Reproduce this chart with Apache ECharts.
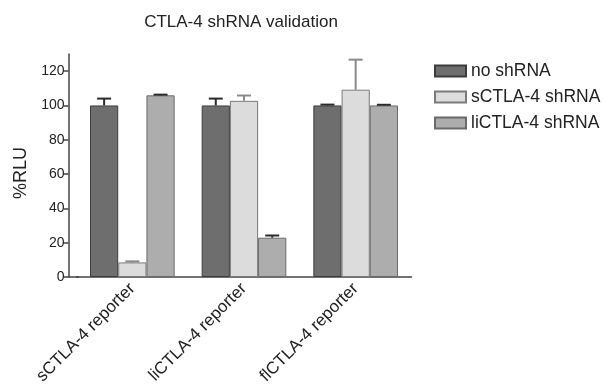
<!DOCTYPE html>
<html>
<head>
<meta charset="utf-8">
<script src="https://cdn.jsdelivr.net/npm/echarts@6/dist/echarts.min.js"></script>
<style>
  html, body { margin: 0; padding: 0; background: #ffffff; }
  #chart { width: 604px; height: 384px; }
</style>
</head>
<body>
<div id="chart"></div>
<script>
// Reporter constructs on the category axis
const categories = ['sCTLA-4 reporter', 'liCTLA-4 reporter', 'flCTLA-4 reporter'];

// Series names (legend order)
const seriesNames = ['no shRNA', 'sCTLA-4 shRNA', 'liCTLA-4 shRNA'];

// Mean %RLU per reporter
const noShRNA = [100, 100, 100];
const sShRNA = [8.5, 102.7, 109.2];
const liShRNA = [105.9, 22.9, 100];

// Upper error (SEM) per reporter
const noShRNAErr = [4, 4, 0.5];
const sShRNAErr = [0.6, 3.1, 17.5];
const liShRNAErr = [0.4, 1.3, 0.4];

// Y-axis ticks and range
const yTicks = [0, 20, 40, 60, 80, 100, 120];
const yMin = 0, yMax = 130;

const fills = ['#6e6e6e', '#dcdcdc', '#adadad'];
const edges = ['#3c3c3c', '#7a7a7a', '#6a6a6a'];
const whiskerColors = ['#2a2a2a', '#8a8a8a', '#2a2a2a'];
const FONT = '"Liberation Sans", Arial, Helvetica, sans-serif';
const CATEGORY_GAP = 0.242;

const means = [noShRNA, sShRNA, liShRNA];
const errs = [noShRNAErr, sShRNAErr, liShRNAErr];

const barSeries = seriesNames.map((name, i) => ({
  name: name,
  type: 'bar',
  xAxisIndex: 0,
  yAxisIndex: 0,
  data: means[i],
  barGap: '0%',
  barCategoryGap: (CATEGORY_GAP * 100) + '%',
  itemStyle: { color: fills[i], borderColor: edges[i], borderWidth: 1 },
  emphasis: { disabled: true },
  z: 2
}));

// Upward whiskers with a cap, positioned over each bar of the group
const errorSeries = seriesNames.map((name, i) => ({
  type: 'custom',
  name: name + ' err',
  xAxisIndex: 0,
  yAxisIndex: 0,
  z: 3,
  silent: true,
  data: categories.map((c, k) => [k, means[i][k], means[i][k] + errs[i][k]]),
  encode: { x: 0, y: [1, 2] },
  renderItem: function (params, api) {
    const k = api.value(0);
    const band = api.size([1, 0])[0];
    const bw = band * (1 - CATEGORY_GAP) / 3;
    const base = api.coord([k, api.value(1)]);
    const top = api.coord([k, api.value(2)]);
    const cx = base[0] + (i - 1) * bw;
    const half = 7;
    const style = { stroke: whiskerColors[i], lineWidth: 2, fill: null };
    return {
      type: 'group',
      children: [
        { type: 'line', shape: { x1: cx, y1: base[1], x2: cx, y2: top[1] }, style: style },
        { type: 'line', shape: { x1: cx - half, y1: top[1], x2: cx + half, y2: top[1] }, style: style }
      ]
    };
  }
}));

const gridTop = 54, gridBottom = 107;

const option = {
  backgroundColor: '#ffffff',
  animation: false,
  title: {
    text: 'CTLA-4 shRNA validation',
    left: 241,
    top: 14,
    padding: 0,
    textAlign: 'center',
    textStyle: { fontFamily: FONT, fontSize: 17, fontWeight: 'normal', color: '#222222' }
  },
  legend: {
    data: seriesNames,
    orient: 'vertical',
    left: 434,
    top: 62,
    padding: 0,
    itemWidth: 31,
    itemHeight: 11,
    itemGap: 8,
    icon: 'rect',
    textStyle: { fontFamily: FONT, fontSize: 17.5, color: '#222222', lineHeight: 18 }
  },
  grid: [
    { left: 76.5, right: 604 - 411.5, top: gridTop, bottom: gridBottom, containLabel: false, outerBoundsMode: 'none' },
    { left: 68.5, width: 10, top: gridTop, bottom: gridBottom, containLabel: false, outerBoundsMode: 'none' }
  ],
  xAxis: [
    {
      type: 'category',
      gridIndex: 0,
      data: categories,
      axisLine: { lineStyle: { color: '#444444', width: 1.5 } },
      axisTick: { alignWithLabel: true, length: 5, lineStyle: { color: '#444444', width: 1.5 } },
      axisLabel: {
        rotate: 45,
        margin: 9,
        interval: 0,
        fontFamily: FONT,
        fontSize: 17,
        color: '#222222'
      },
      splitLine: { show: false }
    },
    {
      // short stub joining the x axis line to the offset y axis
      type: 'value',
      gridIndex: 1,
      min: 0,
      max: 1,
      axisLine: { lineStyle: { color: '#444444', width: 1.5 } },
      axisTick: { show: false },
      axisLabel: { show: false },
      splitLine: { show: false }
    }
  ],
  yAxis: [
    {
      type: 'value',
      gridIndex: 0,
      min: yMin,
      max: yMax,
      offset: 8,
      name: '%RLU',
      nameLocation: 'middle',
      nameGap: 33,
      nameTextStyle: { fontFamily: FONT, fontSize: 18, color: '#222222', padding: [0, 15, 0, 0] },
      axisLine: { show: true, lineStyle: { color: '#444444', width: 1.5 } },
      axisTick: { show: true, length: 5, customValues: yTicks, lineStyle: { color: '#444444', width: 1.5 } },
      axisLabel: {
        margin: 4,
        customValues: yTicks,
        fontFamily: FONT,
        fontSize: 14,
        color: '#222222'
      },
      splitLine: { show: false }
    },
    {
      type: 'value',
      gridIndex: 1,
      show: false
    }
  ],
  series: barSeries.concat(errorSeries)
};

const chart = echarts.init(document.getElementById('chart'), null, { renderer: 'canvas' });
chart.setOption(option);
</script>
</body>
</html>
